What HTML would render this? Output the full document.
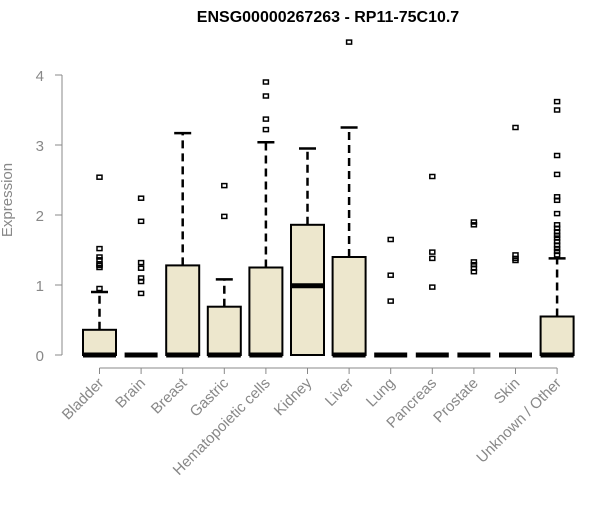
<!DOCTYPE html>
<html><head><style>
body{margin:0;background:#fff;font-family:"Liberation Sans",sans-serif}
</style></head><body>
<svg id="chart" width="600" height="500" xmlns="http://www.w3.org/2000/svg">
<text x="328" y="22" text-anchor="middle" font-weight="bold" font-size="16">ENSG00000267263 - RP11-75C10.7</text>
<g id="yaxis"></g>
<g id="xaxis"></g>
<g id="boxes"></g>
<text transform="translate(12,200) rotate(-90)" text-anchor="middle" fill="#888" font-size="15">Expression</text>
</svg>
<script>
const categories=["Bladder","Brain","Breast","Gastric","Hematopoietic cells","Kidney","Liver","Lung","Pancreas","Prostate","Skin","Unknown / Other"];
const q1=[0,0,0,0,0,0,0,0,0,0,0,0];
const medians=[0,0,0,0,0,0.99,0,0,0,0,0,0];
const q3=[0.36,0,1.28,0.69,1.25,1.86,1.40,0,0,0,0,0.55];
const whiskerHigh=[0.9,0,3.17,1.08,3.04,2.95,3.25,0,0,0,0,1.38];
const outliers=[
[2.54,1.52,1.40,1.36,1.30,1.28,1.25,0.95],
[2.24,1.91,1.32,1.24,1.10,1.05,0.88],
[],
[2.42,1.98],
[3.90,3.70,3.37,3.22],
[],
[4.47],
[1.65,1.14,0.77],
[2.55,1.47,1.38,0.97],
[1.90,1.86,1.33,1.29,1.24,1.19],
[3.25,1.43,1.38,1.35],
[3.62,3.50,2.85,2.58,2.26,2.21,2.02,1.86,1.81,1.76,1.71,1.67,1.62,1.57,1.52,1.48,1.43]
];
const yTicks=[0,1,2,3,4];
const NS="http://www.w3.org/2000/svg";
const y=v=>355-v*70;
const x=i=>99.5+i*41.6;
const hw=16.5;
function mk(tag,attrs,parent){const e=document.createElementNS(NS,tag);for(const k in attrs)e.setAttribute(k,attrs[k]);parent.appendChild(e);return e;}
const ya=document.getElementById('yaxis');
const l0=mk('line',{x1:62,x2:62,y1:y(0),y2:y(4),stroke:'#888'},ya);


yTicks.forEach(t=>{
 const tk=mk('line',{x1:55,x2:62,y1:y(t),y2:y(t),stroke:'#888'},ya);
 
 
 const tx=mk('text',{x:44,y:y(t)+6,'text-anchor':'end',fill:'#888','font-size':15},ya);
 
 
 tx.textContent=t;
});
const xa=document.getElementById('xaxis');
const xl=mk('line',{x1:x(0),x2:x(categories.length-1),y1:368,y2:368,stroke:'#888'},xa);


const bx=document.getElementById('boxes');
categories.forEach((c,i)=>{
 const cx=x(i);
 const tk=mk('line',{x1:cx,x2:cx,y1:368,y2:374,stroke:'#888'},xa);
 
 
 const tx=mk('text',{transform:`translate(${cx+5},${384}) rotate(-45)`,'text-anchor':'end',fill:'#888','font-size':15},xa);
 
 
 tx.textContent=c;
 const g=mk('g',{},bx);
 
 
 if(whiskerHigh[i]>q3[i]){
  mk('line',{x1:cx,x2:cx,y1:y(q3[i]),y2:y(whiskerHigh[i]),stroke:'#000','stroke-width':2.5,'stroke-dasharray':'8,5'},g);
  mk('line',{x1:cx-8.5,x2:cx+8.5,y1:y(whiskerHigh[i]),y2:y(whiskerHigh[i]),stroke:'#000','stroke-width':2.5},g);
 }
 if(q3[i]>q1[i]) mk('rect',{x:cx-hw,y:y(q3[i]),width:hw*2,height:y(q1[i])-y(q3[i]),fill:'#ede7cd',stroke:'#000','stroke-width':2},g);
 mk('line',{x1:cx-hw,x2:cx+hw,y1:y(medians[i]),y2:y(medians[i]),stroke:'#000','stroke-width':5},g);
 outliers[i].forEach(v=>{
  const p=mk('rect',{x:cx-2.5,y:y(v)-2,width:5,height:4,fill:'none',stroke:'#000','stroke-width':1.5},g);
  
  
 });
});
</script>
</body></html>
